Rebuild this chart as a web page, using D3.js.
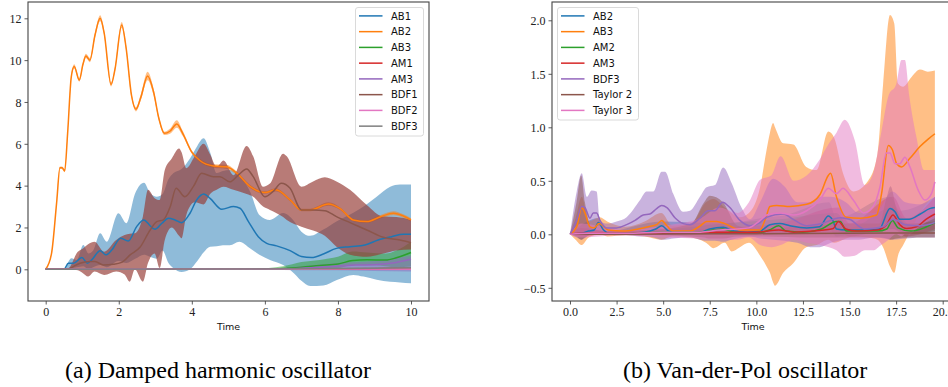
<!DOCTYPE html>
<html><head><meta charset="utf-8">
<script src="https://cdn.jsdelivr.net/npm/d3@7"></script>
<style>
html,body{margin:0;padding:0;background:#fff;}
svg{display:block;}
</style></head>
<body>
<svg id="chart" width="948" height="387"></svg>
<script>
// ---------------- DATA: (a) Damped harmonic oscillator ----------------
const leftNames = ["AB1","AB2","AB3","AM1","AM3","BDF1","BDF2","BDF3"];
const leftXTicks = [0,2,4,6,8,10];
const leftYTicks = [0,2,4,6,8,10,12];

const aAB1 = [[0,0],[0.5,0],[0.62,0.29],[0.76,0.29],[0.99,0.56],[1.14,0.29],[1.26,0.45],[1.49,0.89],[1.65,0.69],[1.81,0.92],[2.05,1.48],[2.26,1.35],[2.49,2.04],[2.69,2.36],[2.84,2.12],[2.99,1.91],[3.18,2.2],[3.36,2.44],[3.54,2.36],[3.72,2.23],[3.95,2.68],[4.13,3.31],[4.33,3.6],[4.5,3.39],[4.82,2.87],[5.14,3.0],[5.32,2.92],[5.55,2.28],[5.82,1.56],[6.05,1.24],[6.32,1.12],[6.69,0.89],[7.0,0.61],[7.28,0.56],[7.6,0.73],[7.96,1.0],[8.33,1.08],[8.74,1.16],[9.1,1.4],[9.47,1.56],[9.79,1.67],[10,1.67]];
const aAB1Band = [[0,0,0],[0.5,0,0.02],[0.7,0.05,0.53],[0.85,0.1,0.45],[1.03,0.15,1.16],[1.17,0.0,0.76],[1.3,0.1,0.9],[1.49,0.2,1.72],[1.67,0.1,1.32],[1.99,0.4,2.68],[2.21,0.3,2.2],[2.45,0.5,3.63],[2.69,0.7,4.14],[2.86,0.6,3.63],[3.04,0.5,3.47],[3.2,0.9,3.6],[3.36,0.3,4.3],[3.5,0.05,4.6],[3.72,-0.13,4.8],[3.95,0.0,5.3],[4.15,0.4,5.9],[4.32,0.8,6.26],[4.5,1.08,5.6],[4.68,1.1,4.6],[4.85,1.15,4.7],[5.04,1.15,4.75],[5.3,1.32,4.5],[5.6,1.0,3.7],[5.85,0.7,2.6],[6.14,0.45,2.36],[6.5,0.2,2.69],[6.8,-0.2,2.3],[7.0,-0.55,1.8],[7.24,-0.8,1.6],[7.6,-0.77,1.9],[7.97,-0.51,2.3],[8.42,-0.27,2.7],[8.7,-0.35,3.0],[9.06,-0.5,3.47],[9.43,-0.6,3.95],[9.7,-0.63,4.05],[10,-0.67,4.05]];

const aAB2 = [[0,0],[0.16,0.76],[0.3,3.2],[0.39,4.85],[0.45,4.85],[0.52,4.7],[0.6,6.5],[0.7,9.2],[0.78,9.7],[0.92,9.05],[1.02,9.8],[1.1,10.2],[1.21,10.0],[1.35,11.2],[1.49,12.0],[1.6,11.3],[1.79,8.84],[1.9,9.6],[2.08,11.68],[2.2,10.6],[2.35,8.3],[2.47,7.65],[2.6,8.2],[2.79,9.24],[2.95,8.5],[3.1,7.2],[3.25,6.5],[3.4,6.6],[3.59,6.95],[3.75,6.5],[4.0,5.6],[4.22,5.2],[4.59,4.94],[4.95,4.9],[5.23,4.6],[5.6,3.95],[6.0,3.67],[6.3,3.8],[6.7,3.3],[7.0,2.84],[7.24,2.84],[7.74,3.12],[8.06,2.9],[8.42,2.36],[8.79,2.28],[9.15,2.5],[9.52,2.68],[9.79,2.55],[10,2.36]];
// half-width of the AB2 band at each AB2 point
const aAB2Spread = [0,0.03,0.05,0.06,0.06,0.06,0.08,0.08,0.1,0.08,0.1,0.1,0.1,0.12,0.14,0.12,0.1,0.1,0.14,0.12,0.1,0.1,0.14,0.2,0.16,0.1,0.08,0.12,0.18,0.12,0.08,0.08,0.08,0.1,0.08,0.08,0.06,0.08,0.06,0.06,0.06,0.08,0.06,0.06,0.06,0.08,0.1,0.08,0.08];

const aAB3 = [[0,0],[5.5,0],[6,0.01],[6.5,0.04],[7,0.1],[7.5,0.18],[8,0.25],[8.4,0.42],[8.8,0.46],[9.3,0.44],[9.6,0.55],[10,0.8]];
const aAB3Band = [[0,0,0],[5.5,-0.01,0.02],[6.5,0.0,0.15],[7,0.0,0.35],[7.5,0.02,0.45],[8,0.05,0.6],[8.4,0.2,0.85],[8.8,0.2,0.8],[9.3,0.15,0.75],[9.6,0.1,0.9],[10,0.15,1.3]];

const aAM1 = [[0,0],[6,0.0],[8,0.02],[10,0.04]];
const aAM1Band = [[0,0,0],[6,-0.01,0.01],[8,-0.02,0.06],[10,-0.03,0.1]];

const aAM3 = [[0,0],[6,0],[7,0.05],[8,0.14],[8.5,0.2],[9,0.22],[9.5,0.3],[10,0.48]];
const aAM3Band = [[0,0,0],[6,-0.02,0.03],[7,-0.05,0.15],[8,-0.05,0.3],[9,-0.08,0.4],[10,-0.1,0.65]];

const aBDF1 = [[0,0],[0.6,0],[0.67,0.05],[0.94,0.29],[1.21,0.37],[1.35,0.37],[1.58,0.21],[1.85,0.24],[2.08,0.33],[2.31,0.69],[2.58,1.05],[2.86,1.88],[3.04,2.28],[3.22,2.36],[3.41,3.0],[3.57,3.87],[3.81,3.47],[4.04,3.95],[4.27,4.59],[4.59,4.43],[4.77,4.43],[5.04,4.18],[5.27,4.5],[5.5,4.8],[5.68,4.43],[6.0,3.47],[6.22,3.71],[6.45,4.11],[6.69,3.87],[7.0,2.84],[7.32,2.84],[7.64,2.8],[7.96,2.52],[8.33,2.23],[8.79,1.88],[9.24,1.53],[9.7,1.4],[10,1.27]];
const aBDF1Band = [[0,0,0],[0.6,0,0.02],[0.88,-0.05,0.84],[1.02,-0.19,1.0],[1.16,-0.35,1.2],[1.34,-0.11,1.32],[1.6,-0.27,0.84],[1.93,-0.1,1.4],[2.16,-0.25,1.64],[2.3,-0.59,1.7],[2.44,0.0,1.72],[2.66,-0.59,2.51],[2.8,0.3,3.8],[2.98,0.76,3.4],[3.12,0.06,3.31],[3.26,1.4,4.75],[3.45,2.0,5.3],[3.65,1.6,5.78],[3.72,1.48,5.6],[3.85,2.6,4.83],[4.08,3.2,5.4],[4.32,3.1,6.0],[4.5,3.6,5.5],[4.68,3.8,4.9],[4.87,3.95,5.2],[5.14,3.8,4.5],[5.5,3.6,5.9],[5.68,3.47,5.4],[5.95,3.0,3.95],[6.14,2.84,4.1],[6.5,2.5,5.53],[6.6,2.36,5.4],[7.0,2.04,3.95],[7.32,1.85,4.2],[7.64,1.6,4.4],[7.96,1.08,4.2],[8.33,0.7,3.8],[8.79,0.6,3.08],[9.24,0.75,2.52],[9.6,0.9,2.5],[10,0.95,2.36]];

const aBDF2 = [[0,0],[6,0],[8,0.01],[10,0.02]];
const aBDF2Band = [[0,0,0],[6,-0.01,0.01],[10,-0.02,0.05]];

const aBDF3 = [[0,0],[6,0.01],[8,0.04],[10,0.07]];
const aBDF3Band = [[0,0,0],[6,0,0.02],[10,0.02,0.12]];

// ---------------- DATA: (b) Van-der-Pol oscillator ----------------
const rightNames = ["AB2","AB3","AM2","AM3","BDF3","Taylor 2","Taylor 3"];
const rightXTicks = [0,2.5,5,7.5,10,12.5,15,17.5,20];
const rightYTicks = [-0.5,0,0.5,1.0,1.5,2.0];

const bAB2 = [[0,0],[0.6,0.01],[1.0,0.03],[1.3,0.04],[1.52,0.11],[1.8,0.04],[2.1,0.01],[3,0.01],[4,0.02],[4.6,0.05],[4.92,0.08],[5.3,0.03],[6,0.01],[7,0.02],[7.5,0.05],[8.22,0.065],[8.8,0.03],[9.5,0.02],[10.2,0.03],[10.73,0.09],[11.27,0.1],[11.8,0.08],[12.7,0.06],[13.4,0.07],[13.86,0.17],[14.1,0.13],[14.3,0.05],[14.83,0.04],[16,0.04],[16.6,0.05],[17.17,0.24],[17.44,0.21],[17.7,0.14],[18.2,0.14],[18.8,0.19],[19.3,0.24],[19.58,0.25]];
const bAB2Band = [[0,0,0],[1.5,0.0,0.15],[2,0,0.03],[4.9,0.0,0.12],[8.2,0.0,0.1],[10.7,0.02,0.16],[11.3,0.03,0.17],[13.9,0.05,0.3],[14.3,-0.02,0.15],[17.2,0.1,0.35],[17.7,0.05,0.22],[19.58,0.1,0.35]];

const bAB3 = [[0,0],[0.36,0.07],[0.63,0.25],[0.8,0.2],[1.07,0.07],[1.3,0.06],[1.55,0.1],[1.75,0.08],[2.05,0.04],[2.86,0.03],[3.67,0.05],[4.2,0.07],[4.65,0.09],[4.92,0.13],[5.2,0.08],[5.54,0.03],[6.44,0.03],[7.0,0.08],[7.33,0.12],[7.87,0.12],[8.3,0.1],[8.94,0.05],[9.12,0.04],[10.19,0.04],[10.5,0.15],[10.73,0.26],[11.09,0.27],[11.8,0.26],[12.7,0.28],[13.41,0.37],[13.86,0.55],[13.98,0.57],[14.3,0.35],[14.83,0.16],[15.56,0.15],[16.45,0.18],[16.72,0.38],[17.08,0.83],[17.3,0.79],[17.53,0.66],[17.79,0.63],[18.24,0.71],[18.78,0.82],[19.22,0.89],[19.58,0.94]];
const bAB3Band = [[0,0,0],[0.3,-0.05,0.15],[0.63,-0.1,0.35],[1.0,-0.03,0.12],[1.6,0.0,0.16],[2.0,-0.02,0.12],[3,-0.01,0.07],[4,-0.02,0.12],[4.9,-0.05,0.2],[5.5,-0.02,0.08],[6.5,-0.03,0.1],[7.3,-0.08,0.3],[7.7,-0.13,0.33],[8.3,-0.08,0.25],[8.67,-0.16,0.2],[9.12,-0.12,0.16],[9.6,-0.08,0.2],[10.2,-0.2,0.44],[10.55,-0.3,0.79],[10.73,-0.36,0.95],[10.9,-0.45,1.04],[11.0,-0.48,1.0],[11.44,-0.36,0.85],[11.98,-0.27,0.84],[12.68,-0.12,0.63],[13.23,-0.1,0.6],[13.86,-0.05,0.96],[14.18,-0.08,0.9],[14.65,-0.05,0.57],[15.2,-0.02,0.4],[16.0,-0.03,0.5],[16.5,-0.05,0.75],[16.8,-0.12,1.4],[17.17,-0.3,2.05],[17.4,-0.36,1.97],[17.6,-0.2,1.41],[17.88,-0.1,1.38],[18.33,0.05,1.47],[18.78,0.2,1.54],[19.2,0.3,1.52],[19.58,0.35,1.53]];

const bAM2 = [[0,0],[1,0.005],[3,0.01],[5,0.02],[7,0.02],[7.7,0.04],[8.2,0.05],[8.8,0.02],[10,0.01],[10.7,0.04],[11.2,0.08],[11.6,0.03],[12.5,0.02],[13.5,0.05],[14.3,0.12],[14.5,0.12],[14.83,0.03],[16.5,0.03],[17,0.05],[17.3,0.13],[17.6,0.06],[18.3,0.03],[19,0.06],[19.58,0.11]];
const bAM2Band = [[0,0,0],[5,0,0.04],[8.2,0.0,0.1],[11.2,0.02,0.14],[14.3,0.04,0.2],[15,0,0.06],[17.3,0.05,0.25],[18.3,0,0.08],[19.58,0.03,0.18]];

const bAM3 = [[0,0],[0.6,0.01],[2,0.01],[5,0.01],[8,0.02],[10,0.02],[11.2,0.04],[12,0.02],[13,0.03],[14.13,0.055],[14.4,0.12],[14.8,0.05],[15.4,0.03],[16.5,0.04],[16.98,0.09],[17.33,0.18],[17.7,0.09],[18.06,0.055],[18.6,0.07],[19.1,0.14],[19.58,0.19]];
const bAM3Band = [[0,0,0],[0.6,-0.02,0.06],[2,0,0.03],[8,0,0.06],[11.2,0,0.1],[14.4,0.02,0.25],[15,-0.02,0.1],[17.33,0.05,0.35],[18.06,-0.02,0.15],[19.58,0.05,0.35]];

const bBDF3 = [[0,0],[0.36,0.13],[0.63,0.26],[0.8,0.25],[1.07,0.15],[1.25,0.2],[1.43,0.2],[1.61,0.13],[1.97,0.06],[2.5,0.06],[3.04,0.09],[3.49,0.13],[3.93,0.18],[4.29,0.19],[4.65,0.24],[4.92,0.27],[5.2,0.25],[5.63,0.155],[6.08,0.1],[6.44,0.09],[6.97,0.15],[7.42,0.22],[7.78,0.22],[8.19,0.3],[8.58,0.25],[9.12,0.13],[9.66,0.08],[10.2,0.11],[10.55,0.16],[11.44,0.19],[11.98,0.14],[12.7,0.08],[13.5,0.1],[14.5,0.155],[15.0,0.14],[15.8,0.05],[16.8,0.07],[17.35,0.14],[18,0.09],[18.8,0.08],[19.58,0.11]];
const bBDF3Band = [[0,0,0],[0.36,-0.03,0.4],[0.63,-0.05,0.57],[0.9,-0.02,0.35],[1.16,0.0,0.41],[1.43,0.0,0.4],[1.6,0.0,0.13],[2.0,0.0,0.1],[2.5,-0.01,0.12],[3.04,-0.01,0.16],[3.76,-0.02,0.32],[4.11,-0.02,0.4],[4.47,-0.03,0.4],[4.92,-0.05,0.585],[5.1,-0.05,0.585],[5.54,-0.04,0.38],[6.08,-0.03,0.21],[6.44,-0.03,0.22],[6.97,-0.05,0.35],[7.33,-0.06,0.44],[7.78,-0.06,0.46],[8.22,-0.07,0.625],[8.67,-0.05,0.48],[9.2,-0.03,0.25],[9.66,-0.02,0.14],[10.2,-0.04,0.3],[10.9,-0.05,0.52],[11.5,-0.06,0.45],[12.2,-0.08,0.3],[12.9,-0.12,0.3],[13.4,-0.12,0.35],[14.0,-0.08,0.35],[14.8,-0.05,0.3],[15.5,-0.05,0.2],[16.4,-0.03,0.2],[17.3,-0.05,0.4],[18.0,-0.04,0.3],[18.8,-0.03,0.28],[19.58,-0.03,0.35]];

const bTaylor2 = [[0,0],[5,0.003],[10,0.006],[15,0.01],[19.58,0.012]];
const bTaylor2Band = [[0,0,0],[0.35,-0.02,0.3],[0.6,-0.05,0.55],[0.8,-0.03,0.3],[1.2,0,0.05],[2,0,0.03],[5,-0.01,0.05],[6.5,-0.02,0.1],[7.2,-0.03,0.3],[7.5,-0.04,0.36],[8.2,-0.04,0.3],[9,-0.02,0.08],[10,-0.02,0.05],[13,-0.03,0.08],[15,-0.03,0.1],[16.6,-0.03,0.1],[17.0,-0.04,0.35],[17.2,-0.05,0.45],[17.5,-0.04,0.25],[18,-0.03,0.1],[19.58,-0.03,0.12]];

const bTaylor3 = [[0,0],[1,0.01],[3,0.01],[5,0.02],[7,0.02],[8,0.04],[9,0.05],[9.6,0.06],[10.2,0.13],[10.55,0.18],[11.27,0.2],[12,0.18],[12.7,0.22],[13.41,0.32],[13.86,0.43],[14.3,0.38],[14.65,0.43],[15.2,0.32],[15.74,0.2],[16.27,0.26],[16.63,0.44],[16.98,0.76],[17.17,0.76],[17.44,0.66],[17.7,0.66],[17.97,0.72],[18.24,0.63],[18.69,0.41],[19.04,0.32],[19.4,0.38],[19.58,0.49]];
const bTaylor3Band = [[0,0,0],[0.6,-0.03,0.1],[1.5,-0.02,0.08],[3,-0.01,0.04],[5,-0.03,0.08],[7,-0.04,0.15],[8,-0.05,0.25],[9,-0.05,0.2],[9.6,-0.03,0.3],[10.2,-0.1,0.51],[10.8,-0.12,0.55],[11.3,-0.1,0.73],[12,-0.05,0.5],[12.7,-0.08,0.55],[13.4,-0.1,0.7],[13.9,-0.12,0.85],[14.3,-0.15,0.95],[14.74,-0.21,1.07],[15.28,-0.2,0.88],[15.83,-0.15,0.46],[16.27,-0.15,0.57],[16.7,-0.1,0.95],[17.1,-0.05,1.3],[17.5,0.0,1.4],[17.79,-0.02,1.63],[17.97,0.0,1.63],[18.2,0.0,1.3],[18.6,0.05,0.9],[19.0,0.1,0.6],[19.58,0.15,0.6]];

const captions = ["(a) Damped harmonic oscillator", "(b) Van-der-Pol oscillator"];
const xLabel = "Time";

// ---------------- DRAWING ----------------
const tab = {blue:"#1f77b4", orange:"#ff7f0e", green:"#2ca02c", red:"#d62728",
             purple:"#9467bd", brown:"#8c564b", pink:"#e377c2", gray:"#7f7f7f"};

const svg = d3.select("#chart");
const SERIF = "'Liberation Serif','Times New Roman',serif";
const SANS = "'DejaVu Sans',sans-serif";

// AB2 band rows built from its mean points and read-off half-widths
const aAB2Band = aAB2.map((d, i) => [d[0], d[1] - aAB2Spread[i], d[1] + aAB2Spread[i]]);

function panel(cfg) {
  const g = svg.append("g");
  const x = d3.scaleLinear().domain(cfg.xDom).range(cfg.xRange);
  const y = d3.scaleLinear().domain(cfg.yDom).range(cfg.yRange);
  const f = cfg.frame; // [x0,y0,x1,y1]
  const clipId = "clip" + cfg.id;
  svg.append("clipPath").attr("id", clipId).append("rect")
    .attr("x", f[0]).attr("y", f[1]).attr("width", f[2]-f[0]).attr("height", f[3]-f[1]);
  const plot = g.append("g").attr("clip-path", `url(#${clipId})`);

  const area = d3.area().x(d => x(d[0])).y0(d => y(d[1])).y1(d => y(d[2])).curve(d3.curveMonotoneX);
  const line = d3.line().x(d => x(d[0])).y(d => y(d[1])).curve(d3.curveMonotoneX);

  cfg.series.forEach(s => {
    plot.append("path").attr("d", area(s.band))
      .attr("fill", s.bandColor || s.color).attr("fill-opacity", s.bandOpacity || 0.5).attr("stroke", "none");
  });
  cfg.series.forEach(s => {
    plot.append("path").attr("d", line(s.mean))
      .attr("fill", "none").attr("stroke", s.color).attr("stroke-width", 1.5)
      .attr("stroke-linejoin", "round").attr("stroke-linecap", "butt");
  });

  const fmt = cfg.fmt;
  const xa = g.append("g").attr("transform", `translate(0,${f[3]})`)
    .call(d3.axisBottom(x).tickValues(cfg.xTicks).tickSize(3.5).tickPadding(3).tickFormat(fmt));
  const ya = g.append("g").attr("transform", `translate(${f[0]},0)`)
    .call(d3.axisLeft(y).tickValues(cfg.yTicks).tickSize(3.5).tickPadding(3).tickFormat(fmt));
  [xa, ya].forEach(a => {
    a.select(".domain").remove();
    a.selectAll(".tick line").attr("stroke", "#333").attr("stroke-width", 0.8);
    a.selectAll(".tick text").attr("fill", "#222").style("font-family", SERIF).style("font-size", "12px");
  });
  ya.selectAll(".tick text").attr("dy", "0.36em");

  g.append("rect").attr("x", f[0]).attr("y", f[1]).attr("width", f[2]-f[0]).attr("height", f[3]-f[1])
    .attr("fill", "none").attr("stroke", "#444").attr("stroke-width", 1.1);

  g.append("text").attr("x", (f[0]+f[2])/2).attr("y", 330).attr("text-anchor", "middle")
    .style("font-family", SANS).style("font-size", "9.5px").attr("fill", "#111").text(xLabel);

  const L = cfg.legend;
  const lg = g.append("g");
  lg.append("rect").attr("x", L.x).attr("y", L.y).attr("width", L.w).attr("height", L.h)
    .attr("rx", 2.5).attr("fill", "#fff").attr("fill-opacity", 0.85).attr("stroke", "#d6d6d6").attr("stroke-width", 0.9);
  cfg.series.forEach((s, i) => {
    const cy = L.y + 8.4 + i * 15.75;
    lg.append("line").attr("x1", L.x + 3.5).attr("x2", L.x + 27).attr("y1", cy).attr("y2", cy)
      .attr("stroke", s.color).attr("stroke-width", 1.5);
    lg.append("text").attr("x", L.x + 35.5).attr("y", cy + 3.6)
      .style("font-family", SANS).style("font-size", "10px").attr("fill", "#111").text(s.name);
  });

  svg.append("text").attr("x", cfg.capX).attr("y", 378)
    .style("font-family", SERIF).style("font-size", "24px").attr("fill", "#000").text(cfg.caption);
}

const minusFmt = d => d3.format(".1f")(d).replace("-", "\u2212");

panel({
  id: "A",
  xDom: [0, 10], xRange: [45.7, 411],
  yDom: [0, 12], yRange: [269.3, 18.3],
  frame: [28, 2, 429, 301],
  xTicks: leftXTicks, yTicks: leftYTicks,
  fmt: d3.format("d"),
  legend: {x: 355.5, y: 7.5, w: 68, h: 128.5},
  caption: captions[0], capX: 65,
  series: [
    {name: leftNames[0], color: tab.blue, mean: aAB1, band: aAB1Band},
    {name: leftNames[1], color: tab.orange, mean: aAB2, band: aAB2Band},
    {name: leftNames[2], color: tab.green, mean: aAB3, band: aAB3Band},
    {name: leftNames[3], color: tab.red, mean: aAM1, band: aAM1Band},
    {name: leftNames[4], color: tab.purple, mean: aAM3, band: aAM3Band},
    {name: leftNames[5], color: tab.brown, mean: aBDF1, band: aBDF1Band, bandColor: "rgb(150,60,55)", bandOpacity: 0.68},
    {name: leftNames[6], color: tab.pink, mean: aBDF2, band: aBDF2Band},
    {name: leftNames[7], color: tab.gray, mean: aBDF3, band: aBDF3Band}
  ]
});

panel({
  id: "B",
  xDom: [0, 20], xRange: [570, 942.7],
  yDom: [0, 2], yRange: [234.3, 20.3],
  frame: [552, 2, 954, 301],
  xTicks: rightXTicks, yTicks: rightYTicks,
  fmt: minusFmt,
  legend: {x: 557.5, y: 7.5, w: 81, h: 112.5},
  caption: captions[1], capX: 623,
  series: [
    {name: rightNames[0], color: tab.blue, mean: bAB2, band: bAB2Band},
    {name: rightNames[1], color: tab.orange, mean: bAB3, band: bAB3Band},
    {name: rightNames[2], color: tab.green, mean: bAM2, band: bAM2Band},
    {name: rightNames[3], color: tab.red, mean: bAM3, band: bAM3Band},
    {name: rightNames[4], color: tab.purple, mean: bBDF3, band: bBDF3Band},
    {name: rightNames[5], color: tab.brown, mean: bTaylor2, band: bTaylor2Band},
    {name: rightNames[6], color: tab.pink, mean: bTaylor3, band: bTaylor3Band}
  ]
});
</script>
</body></html>
